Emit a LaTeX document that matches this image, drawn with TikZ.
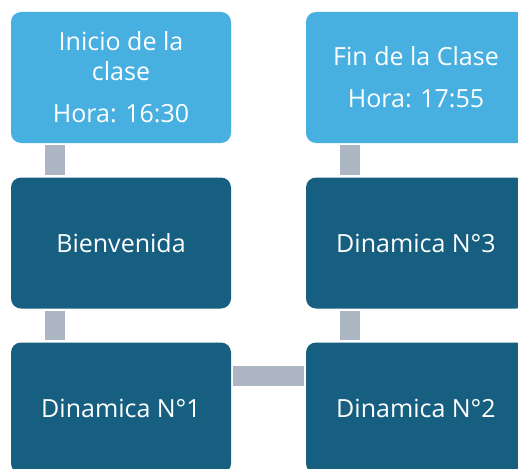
\documentclass[tikz,border=0pt]{standalone}
\usepackage{fontspec}
\setmainfont{Open Sans}
\definecolor{lightbox}{HTML}{47B0E0}
\definecolor{darkbox}{HTML}{175F80}
\definecolor{conncol}{HTML}{ABB6C2}
\begin{document}
\begin{tikzpicture}[x=1pt,y=-1pt,
  box/.style={rounded corners=10pt, minimum width=220pt, minimum height=131pt, inner sep=0pt,
    text=white, align=center, font=\fontsize{25}{30}\selectfont},
  lbox/.style={box, fill=lightbox},
  dbox/.style={box, fill=darkbox},
  conn/.style={draw=conncol, line width=20pt, line cap=butt, shorten <=2pt, shorten >=2pt}]
\useasboundingbox (0,0) rectangle (518,468);
\clip (0,0) rectangle (518,468);
\node[lbox] (b1) at (121,77.5) {Inicio de la\\clase\\[12pt]Hora: 16:30};
\node[dbox] (b2) at (121,243) {Bienvenida};
\node[dbox] (b3) at (121,408) {Dinamica N°1};
\node[dbox] (b4) at (416,408) {Dinamica N°2};
\node[dbox] (b5) at (416,243) {Dinamica N°3};
\node[lbox] (b6) at (416,77.5) {Fin de la Clase\\[12pt]Hora: 17:55};
\draw[conn] ([xshift=-66pt]b1.south) -- ([xshift=-66pt]b2.north);
\draw[conn] ([xshift=-66pt]b2.south) -- ([xshift=-66pt]b3.north);
\draw[conn] ([yshift=32pt]b3.east) -- ([yshift=32pt]b4.west);
\draw[conn] ([xshift=-66pt]b4.north) -- ([xshift=-66pt]b5.south);
\draw[conn] ([xshift=-66pt]b5.north) -- ([xshift=-66pt]b6.south);
\end{tikzpicture}
\end{document}
